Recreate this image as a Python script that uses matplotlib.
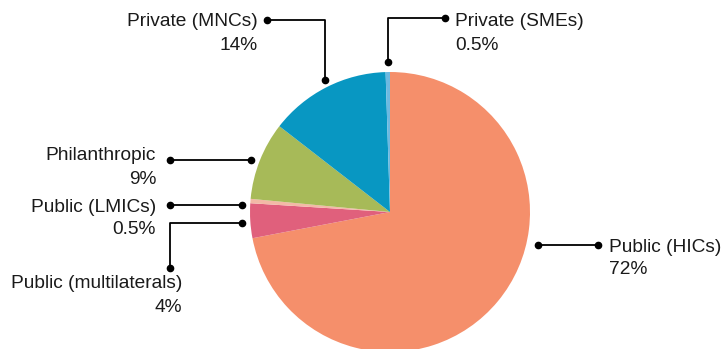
import matplotlib.pyplot as plt

plt.rcParams["font.family"] = ["Liberation Sans", "DejaVu Sans"]

# Funding shares by source
labels = ["Public (HICs)", "Public (multilaterals)", "Public (LMICs)",
          "Philanthropic", "Private (MNCs)", "Private (SMEs)"]
shares = [72, 4, 0.5, 9, 14, 0.5]
share_text = ["72%", "4%", "0.5%", "9%", "14%", "0.5%"]
colors = ["#F58F6B", "#E0607C", "#F3B9A6", "#A7BA58", "#0897C2", "#6CB9E1"]

W, H = 723, 349

fig = plt.figure(figsize=(W / 100, H / 100), dpi=100)
ax = fig.add_axes([0, 0, 1, 1])

ax.pie(shares, colors=colors, startangle=90, counterclock=False,
       center=(390, H - 212), radius=140,
       wedgeprops=dict(linewidth=0))

# pie() resets the limits, so fix the pixel frame afterwards
ax.set_xlim(0, W)
ax.set_ylim(0, H)
ax.set_aspect("equal")
ax.axis("off")


def y(v):
    return H - v


# leader line paths (pixel coords, top-left origin) and label placement
leaders = {
    "Public (HICs)": ([(538, 245), (598, 245)], (609, 247), "left"),
    "Public (multilaterals)": ([(242, 223), (170, 223), (170, 268)], (182, 284), "right"),
    "Public (LMICs)": ([(242, 205), (170, 205)], (156, 207), "right"),
    "Philanthropic": ([(251, 160), (170, 160)], (156, 156), "right"),
    "Private (MNCs)": ([(325, 80), (325, 20), (267, 20)], (258, 22), "right"),
    "Private (SMEs)": ([(388, 62), (388, 18), (445, 18)], (455, 22), "left"),
}

for lab, txt in zip(labels, share_text):
    pts, (tx, ty), ha = leaders[lab]
    xs = [p[0] for p in pts]
    ys = [y(p[1]) for p in pts]
    ax.plot(xs, ys, color="black", lw=1.3, solid_capstyle="butt")
    ax.plot([xs[0], xs[-1]], [ys[0], ys[-1]], "o", color="black", ms=4.5)
    ax.text(tx, y(ty), lab, ha=ha, va="center", fontsize=13.8, color="#1a1a1a")
    ax.text(tx, y(ty + 23), txt, ha=ha, va="center", fontsize=13.8, color="#1a1a1a")

fig.savefig("out.png", dpi=100)
